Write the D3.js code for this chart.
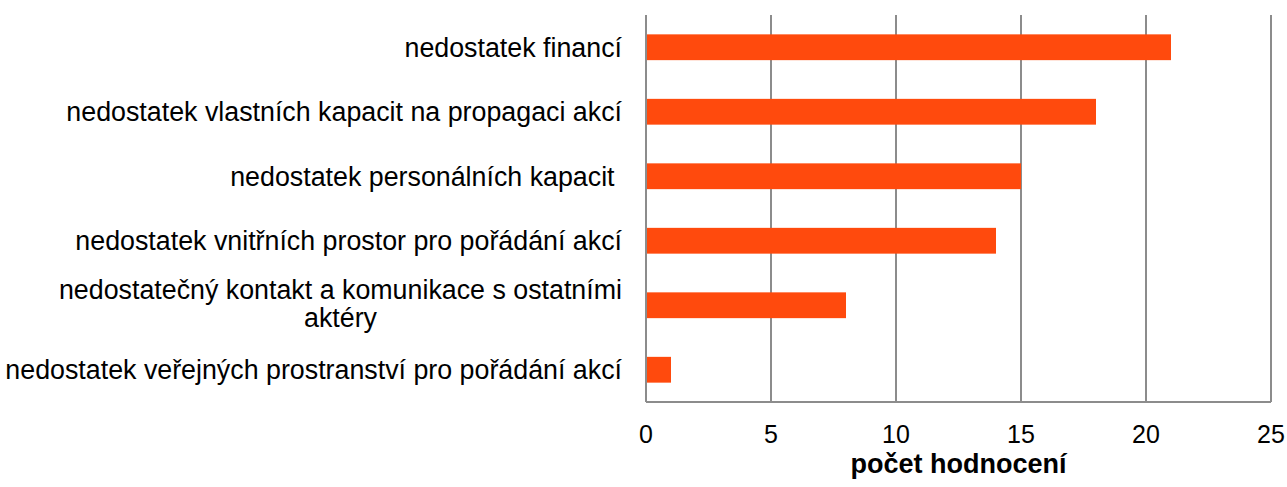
<!DOCTYPE html>
<html>
<head>
<meta charset="utf-8">
<script src="https://cdn.jsdelivr.net/npm/d3@7"></script>
<style>
  body { margin: 0; background: #fff; }
  text { font-family: "Liberation Sans", Arial, sans-serif; fill: #000; }
</style>
</head>
<body>
<div id="chart"></div>
<script>
// chart data
const categories = [
  ['nedostatek financí'],
  ['nedostatek vlastních kapacit na propagaci akcí'],
  ['nedostatek personálních kapacit '],
  ['nedostatek vnitřních prostor pro pořádání akcí'],
  ['nedostatečný kontakt a komunikace s ostatními', 'aktéry'],
  ['nedostatek veřejných prostranství pro pořádání akcí']
];
const values = [21, 18, 15, 14, 8, 1];
const xTicks = [0, 5, 10, 15, 20, 25];
const xTitle = 'počet hodnocení';

const width = 1287, height = 487;
const margin = { top: 15, right: 16, bottom: 85, left: 646 };
const innerW = width - margin.left - margin.right;
const innerH = height - margin.top - margin.bottom;

const svg = d3.select('#chart')
  .append('svg')
  .attr('width', width)
  .attr('height', height);
const graph = svg.append('g')
  .attr('transform', `translate(${margin.left}, ${margin.top})`);

const x = d3.scaleLinear().domain([0, 25]).range([0, innerW]);
const y = d3.scaleBand()
  .domain(d3.range(categories.length))
  .range([0, innerH])
  .paddingInner(0.6)
  .paddingOuter(0.3);

// gridlines
graph.selectAll('.grid')
  .data(xTicks)
  .join('line')
    .attr('class', 'grid')
    .attr('x1', d => x(d)).attr('x2', d => x(d))
    .attr('y1', 0).attr('y2', innerH)
    .attr('stroke', '#8c8c8c')
    .attr('stroke-width', 2);

graph.append('line')
  .attr('x1', 0).attr('x2', innerW)
  .attr('y1', innerH).attr('y2', innerH)
  .attr('stroke', '#8c8c8c')
  .attr('stroke-width', 2);

// bars
graph.selectAll('.bar')
  .data(values)
  .join('rect')
    .attr('class', 'bar')
    .attr('x', x(0) + 1)
    .attr('y', (d, i) => y(i))
    .attr('width', d => x(d) - x(0) - 1)
    .attr('height', y.bandwidth())
    .attr('fill', '#ff4a0d');

// category labels
const labelEnd = -24;
const labels = graph.selectAll('.cat')
  .data(categories)
  .join('text')
    .attr('class', 'cat')
    .attr('font-size', 26.8)
    .style('white-space', 'pre');

labels.each(function (lines, i) {
  const t = d3.select(this);
  const cy = y(i) + y.bandwidth() / 2;
  const lh = 28;
  const top = cy - (lines.length - 1) * lh / 2;
  if (lines.length === 1) {
    t.attr('text-anchor', 'end')
      .attr('x', labelEnd)
      .attr('y', cy)
      .attr('dy', '0.35em')
      .text(lines[0]);
  } else {
    // wrapped label: lines centred within the block, block right-aligned
    const spans = t.selectAll('tspan').data(lines).join('tspan').text(d => d);
    let maxW = 0;
    spans.each(function () { maxW = Math.max(maxW, this.getComputedTextLength()); });
    spans.attr('text-anchor', 'middle')
      .attr('x', labelEnd - maxW / 2)
      .attr('y', (d, k) => top + k * lh)
      .attr('dy', '0.3em');
  }
});

// tick labels
graph.selectAll('.tick-label')
  .data(xTicks)
  .join('text')
    .attr('class', 'tick-label')
    .attr('x', d => x(d))
    .attr('y', innerH + 41)
    .attr('text-anchor', 'middle')
    .attr('font-size', 25)
    .text(d => d);

// axis title
graph.append('text')
  .attr('x', innerW / 2)
  .attr('y', innerH + 71)
  .attr('text-anchor', 'middle')
  .attr('font-size', 27)
  .attr('font-weight', 'bold')
  .text(xTitle);
</script>
</body>
</html>
